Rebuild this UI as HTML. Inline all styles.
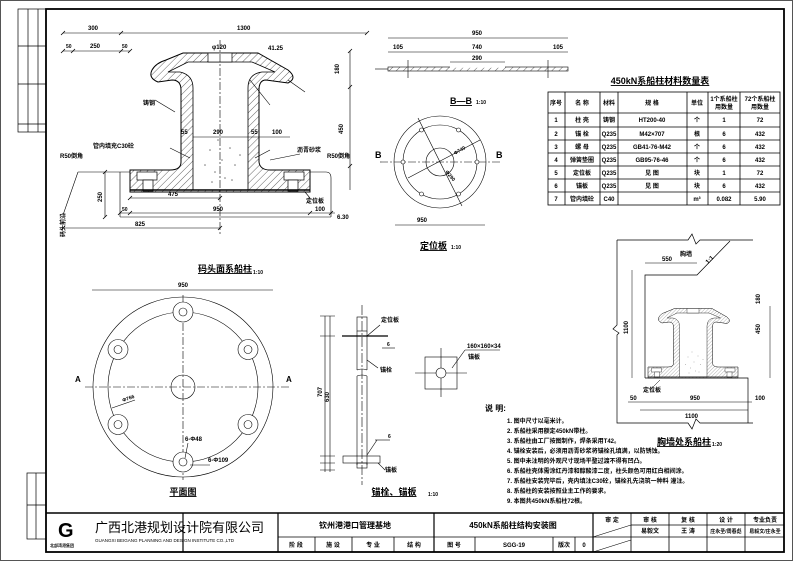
<!DOCTYPE html>
<html><head><meta charset="utf-8"><style>
html,body{margin:0;padding:0;background:#fff}
svg{display:block}
text{font-family:"Liberation Sans","Noto Sans CJK SC",sans-serif;font-weight:bold;fill:#000}
.t{font-size:6px}
.s{font-size:5px}
</style></head><body>
<svg width="793" height="561" viewBox="0 0 793 561" xmlns="http://www.w3.org/2000/svg">
<defs>
<pattern id="h" width="5" height="5" patternUnits="userSpaceOnUse" patternTransform="rotate(45)">
<rect width="5" height="5" fill="#fff"/><line x1="0" y1="0" x2="0" y2="5" stroke="#000" stroke-width="0.6"/></pattern>
<g id="boll">
<path d="M183,53 L258,53 L288,70 Q298,78 288,83 L266,80 Q259,80 259,90 L259,162 Q260,170 270,170 L310,170 L310,192 L130,192 L130,170 L170,170 Q181,170 181,162 L181,90 Q181,80 172,80 L158,82 Q148,78 152,70 Q156,63 166,60 Z" fill="url(#h)" stroke="#000" stroke-width="1"/>
<path d="M193,190 L193,88 Q193,75 180,72 L168,72 L188,62 L252,62 L275,72 L262,72 Q248,74 248,88 L248,190 Z" fill="#fff" stroke="#000" stroke-width="0.8"/>
<rect x="208" y="53" width="24" height="9" fill="#fff" stroke="#000" stroke-width="0.7"/>
<rect x="137" y="172" width="20" height="8" fill="#fff" stroke="#000" stroke-width="0.7"/>
<rect x="143" y="180" width="10" height="11" fill="#fff" stroke="#000" stroke-width="0.7"/>
<rect x="284" y="172" width="20" height="8" fill="#fff" stroke="#000" stroke-width="0.7"/>
<rect x="288" y="180" width="10" height="11" fill="#fff" stroke="#000" stroke-width="0.7"/>
<line x1="130" y1="190" x2="310" y2="190" stroke="#000" stroke-width="1.5"/>
<g fill="#777"><circle cx="210" cy="150" r="0.8"/><circle cx="222" cy="160" r="0.8"/><circle cx="230" cy="148" r="0.8"/><circle cx="215" cy="172" r="0.8"/><circle cx="235" cy="165" r="0.8"/><circle cx="205" cy="165" r="0.8"/><circle cx="225" cy="178" r="0.8"/><circle cx="240" cy="155" r="0.8"/><circle cx="212" cy="182" r="0.8"/><circle cx="232" cy="180" r="0.8"/><circle cx="218" cy="140" r="0.8"/></g>
</g>
</defs>
<rect x="0.5" y="0.5" width="792" height="560" fill="none" stroke="#555" stroke-width="1"/>
<rect x="46" y="9" width="738" height="543" fill="none" stroke="#000" stroke-width="1.8"/>
<!-- left strips -->
<g fill="none" stroke="#000" stroke-width="0.7">
<rect x="18" y="9" width="28" height="123"/><line x1="28" y1="9" x2="28" y2="132"/><line x1="38" y1="9" x2="38" y2="132"/><line x1="18" y1="46" x2="46" y2="46"/><line x1="18" y1="84" x2="46" y2="84"/><line x1="18" y1="124" x2="46" y2="124"/>
<rect x="27" y="473" width="19" height="66"/><line x1="36" y1="473" x2="36" y2="539"/><line x1="27" y1="505" x2="46" y2="505"/>
</g>
<!-- Section bollard -->
<use href="#boll"/>
<g stroke="#000" stroke-width="0.6" fill="none">
<path d="M78,172 L130,172 M310,172 L326,172 Q331,172 331,178 L331,217 M78,172 L63,215 M120,172 L120,217 M120,217 L331,217"/>
<line x1="220" y1="40" x2="220" y2="235" stroke-dasharray="8,2,2,2"/>
<line x1="63" y1="33" x2="367" y2="33"/><line x1="63" y1="51" x2="130" y2="51"/>
<line x1="105" y1="172" x2="105" y2="217"/><line x1="63" y1="228" x2="220" y2="228"/>
<line x1="130" y1="198" x2="220" y2="198"/><line x1="120" y1="213" x2="335" y2="213"/>
<line x1="193" y1="137" x2="290" y2="137"/>
<line x1="350" y1="51" x2="350" y2="190"/>
<line x1="175" y1="112" x2="155" y2="100"/><line x1="270" y1="160" x2="300" y2="154"/><line x1="305" y1="192" x2="310" y2="198"/>
<line x1="250" y1="80" x2="270" y2="105"/><line x1="288" y1="80" x2="305" y2="92"/>
<line x1="190" y1="158" x2="170" y2="148"/><line x1="255" y1="158" x2="270" y2="150"/>
</g>
<g stroke="#000" stroke-width="0.8">
<path d="M61,35 l4,-4 M119,35 l4,-4 M365,35 l4,-4 M61,53 l4,-4 M71,53 l4,-4 M119,53 l4,-4 M128,53 l4,-4 M103,174 l4,-4 M103,219 l4,-4 M61,230 l4,-4 M218,230 l4,-4 M128,200 l4,-4 M218,200 l4,-4 M118,215 l4,-4 M128,215 l4,-4 M308,215 l4,-4 M329,215 l4,-4 M348,53 l4,-4 M348,89 l4,-4 M348,168 l4,-4"/>
</g>
<g class="t">
<text x="88" y="30">300</text><text x="237" y="30">1300</text>
<text x="66" y="48" class="s">50</text><text x="90" y="48">250</text><text x="122" y="48" class="s">50</text>
<text x="212" y="49">φ120</text><text x="268" y="50">41.25</text>
<text x="335" y="70" transform="rotate(-90 339 70)">180</text><text x="339" y="130" transform="rotate(-90 343 130)">450</text>
<text x="143" y="105">铸钢</text><text x="93" y="148">管内填充C30砼</text><text x="60" y="158">R50倒角</text>
<text x="297" y="152">沥青砂浆</text><text x="327" y="158">R50倒角</text><text x="306" y="203">定位板</text>
<text x="181" y="134">55</text><text x="213" y="134">290</text><text x="251" y="134">55</text><text x="272" y="134">100</text>
<text x="168" y="196">475</text><text x="213" y="211">950</text><text x="122" y="211" class="s">50</text><text x="315" y="211">100</text>
<text x="98" y="198" transform="rotate(-90 102 198)">250</text><text x="135" y="226">825</text>
<text x="337" y="219">6.30</text>
<text x="52" y="240" transform="rotate(-90 57 232)">码头前沿</text>
</g>
<!-- B-B section -->
<g stroke="#000" stroke-width="0.6" fill="none">
<line x1="388" y1="38" x2="568" y2="38"/><line x1="388" y1="52" x2="568" y2="52"/><line x1="450" y1="62" x2="505" y2="62"/>
<rect x="388" y="67" width="180" height="4" fill="url(#h)"/>
<line x1="450" y1="67" x2="505" y2="67" stroke="#fff" stroke-width="1.5"/>
<line x1="408" y1="60" x2="408" y2="78"/><line x1="548" y1="60" x2="548" y2="78"/>
<line x1="375" y1="69" x2="388" y2="69"/>
<circle cx="440" cy="162" r="46"/><circle cx="440" cy="162" r="37"/><circle cx="440" cy="162" r="14"/>
<line x1="380" y1="162" x2="500" y2="162" stroke-dasharray="8,2,2,2"/>
<line x1="418" y1="118" x2="462" y2="206"/><line x1="408" y1="178" x2="480" y2="140"/>
<line x1="395" y1="225" x2="485" y2="225"/>
<line x1="405" y1="105" x2="445" y2="105" stroke-width="0"/>
</g>
<g fill="#fff" stroke="#000" stroke-width="0.6">
<circle cx="477" cy="162" r="2"/><circle cx="403" cy="162" r="2"/><circle cx="458.5" cy="130" r="2"/><circle cx="421.5" cy="130" r="2"/><circle cx="458.5" cy="194" r="2"/><circle cx="421.5" cy="194" r="2"/>
</g>
<g class="t">
<text x="472" y="35">950</text><text x="393" y="49">105</text><text x="472" y="49">740</text><text x="553" y="49">105</text><text x="472" y="60">290</text>
<text x="450" y="104" style="font-size:9px;text-decoration:underline">B—B</text><text x="476" y="104" class="s">1:10</text>
<text x="375" y="158" style="font-size:9px">B</text><text x="496" y="158" style="font-size:9px">B</text>
<text x="417" y="222">950</text>
<text x="420" y="249" style="font-size:9px;text-decoration:underline">定位板</text><text x="451" y="249" class="s">1:10</text>
<text x="455" y="155" class="s" transform="rotate(-30 455 155)">Φ740</text><text x="445" y="172" class="s" transform="rotate(50 445 172)">Φ290</text>
</g>
<!-- table -->
<text x="660" y="84" text-anchor="middle" style="font-size:9px;text-decoration:underline">450kN系船柱材料数量表</text>
<g stroke="#000" stroke-width="0.8" fill="none">
<rect x="548" y="92" width="232" height="113"/>
<path d="M548,113H780M548,127H780M548,140H780M548,153H780M548,166H780M548,179H780M548,192H780"/>
<path d="M565,92V205M600,92V205M618,92V205M687,92V205M708,92V205M740,92V205"/>
</g>
<g class="t" text-anchor="middle">
<text x="556" y="105">序号</text><text x="582" y="105">名 称</text><text x="609" y="105">材料</text><text x="652" y="105">规 格</text><text x="697" y="105">单位</text><text x="724" y="101">1个系船柱</text><text x="724" y="109">用数量</text><text x="760" y="101">72个系船柱</text><text x="760" y="109">用数量</text>
<text x="556" y="122">1</text><text x="582" y="122">柱 壳</text><text x="609" y="122">铸钢</text><text x="652" y="122">HT200-40</text><text x="697" y="122">个</text><text x="724" y="122">1</text><text x="760" y="122">72</text>
<text x="556" y="136">2</text><text x="582" y="136">锚 栓</text><text x="609" y="136">Q235</text><text x="652" y="136">M42×707</text><text x="697" y="136">根</text><text x="724" y="136">6</text><text x="760" y="136">432</text>
<text x="556" y="149">3</text><text x="582" y="149">螺 母</text><text x="609" y="149">Q235</text><text x="652" y="149">GB41-76-M42</text><text x="697" y="149">个</text><text x="724" y="149">6</text><text x="760" y="149">432</text>
<text x="556" y="162">4</text><text x="582" y="162">弹簧垫圈</text><text x="609" y="162">Q235</text><text x="652" y="162">GB95-76-46</text><text x="697" y="162">个</text><text x="724" y="162">6</text><text x="760" y="162">432</text>
<text x="556" y="175">5</text><text x="582" y="175">定位板</text><text x="609" y="175">Q235</text><text x="652" y="175">见 图</text><text x="697" y="175">块</text><text x="724" y="175">1</text><text x="760" y="175">72</text>
<text x="556" y="188">6</text><text x="582" y="188">锚板</text><text x="609" y="188">Q235</text><text x="652" y="188">见 图</text><text x="697" y="188">块</text><text x="724" y="188">6</text><text x="760" y="188">432</text>
<text x="556" y="201">7</text><text x="582" y="201">管内填砼</text><text x="609" y="201">C40</text><text x="697" y="201">m³</text><text x="724" y="201">0.082</text><text x="760" y="201">5.90</text>
</g>
<!-- plan circle -->
<text x="225" y="272" text-anchor="middle" style="font-size:9px;text-decoration:underline">码头面系船柱</text><text x="253" y="274" class="s">1:10</text>
<g stroke="#000" stroke-width="0.6" fill="none">
<line x1="92" y1="290" x2="273" y2="290"/>
<circle cx="183" cy="387" r="90"/><circle cx="183" cy="387" r="75"/><circle cx="183" cy="387" r="12"/>
<line x1="85" y1="387" x2="290" y2="387" stroke-dasharray="8,2,2,2"/><line x1="183" y1="295" x2="183" y2="480" stroke-dasharray="8,2,2,2"/>
<g fill="#fff">
<circle cx="183" cy="312" r="10"/><circle cx="183" cy="312" r="4"/>
<circle cx="183" cy="462" r="10"/><circle cx="183" cy="462" r="4"/>
<circle cx="118" cy="349.5" r="10"/><circle cx="118" cy="349.5" r="4"/>
<circle cx="248" cy="349.5" r="10"/><circle cx="248" cy="349.5" r="4"/>
<circle cx="118" cy="424.5" r="10"/><circle cx="118" cy="424.5" r="4"/>
<circle cx="248" cy="424.5" r="10"/><circle cx="248" cy="424.5" r="4"/>
</g>
<line x1="112" y1="408" x2="135" y2="400"/><line x1="185" y1="458" x2="188" y2="443"/><line x1="190" y1="465" x2="210" y2="465"/>
</g>
<g class="t">
<text x="178" y="287">950</text><text x="75" y="382" style="font-size:8px">A</text><text x="286" y="382" style="font-size:8px">A</text>
<text x="123" y="402" class="s" transform="rotate(-20 123 402)">Φ766</text><text x="185" y="441">6-Φ48</text><text x="208" y="462">6-Φ109</text>
<text x="183" y="495" text-anchor="middle" style="font-size:9px;text-decoration:underline">平面图</text>
</g>
<!-- bolt -->
<g stroke="#000" stroke-width="0.6" fill="none">
<line x1="362" y1="305" x2="362" y2="485" stroke-dasharray="10,2,2,2"/>
<rect x="357" y="317" width="10" height="14"/>
<path d="M357,331 V370 M367,331 V370 M357,376 V465 M367,376 V465"/>
<path d="M357,370 Q362,368 367,370 M357,376 Q362,374 367,376"/>
<line x1="342" y1="336" x2="388" y2="336" stroke-width="1.2"/>
<rect x="343" y="456" width="37" height="7"/>
<rect x="357" y="463" width="10" height="5"/>
<path d="M325,316 V472 M330,316 V472 M320,316 H335 M320,336 H335 M320,456 H335 M320,463 H335 M320,470 H335"/>
<line x1="367" y1="336" x2="380" y2="325"/><line x1="367" y1="360" x2="378" y2="368"/><line x1="367" y1="455" x2="377" y2="440"/><line x1="378" y1="463" x2="385" y2="470"/>
<line x1="382" y1="348" x2="395" y2="348"/><line x1="375" y1="440" x2="390" y2="440"/>
</g>
<g class="t">
<text x="381" y="322">定位板</text><text x="380" y="372">锚栓</text><text x="385" y="472">锚板</text>
<text x="320" y="395" transform="rotate(-90 322 395)">707</text><text x="327" y="400" transform="rotate(-90 329 400)">630</text>
<text x="387" y="346" class="s">6</text><text x="388" y="438" class="s">6</text>
<text x="394" y="495" text-anchor="middle" style="font-size:9px;text-decoration:underline">锚栓、锚板</text><text x="428" y="496" class="s">1:10</text>
</g>
<!-- square plate -->
<g stroke="#000" stroke-width="0.6" fill="none">
<rect x="425" y="357" width="32" height="32"/>
<line x1="415" y1="373" x2="467" y2="373"/><line x1="441" y1="348" x2="441" y2="397"/>
<circle cx="441" cy="373" r="5" fill="#fff"/>
<line x1="452" y1="368" x2="465" y2="350"/><line x1="465" y1="350" x2="500" y2="350"/>
</g>
<text x="467" y="348" class="t">160×160×34</text><text x="468" y="359" class="t">锚板</text>
<!-- right detail -->
<g stroke="#000" stroke-width="0.7" fill="none">
<path d="M617,240 H688 l4,-6 l4,10 l4,-4 H753 M617,240 V325 l-4,4 l6,4 l-2,2 V423 H688 l4,6 l4,-10 l4,4 H753"/>
<path d="M645,378 V275 H697 L730,241 M645,378 H748 V423"/>
<line x1="632" y1="270" x2="632" y2="378" stroke-width="0.5"/>
<line x1="645" y1="263" x2="697" y2="263" stroke-width="0.5"/>
<line x1="628" y1="402" x2="752" y2="402" stroke-width="0.5"/><line x1="640" y1="410" x2="748" y2="410" stroke-width="0.5"/>
<line x1="770" y1="306" x2="770" y2="378" stroke-width="0.5"/>
<line x1="660" y1="380" x2="650" y2="390" stroke-width="0.5"/>
</g>
<use href="#boll" transform="translate(693,378) scale(0.5) translate(-220,-192)"/>
<g class="t">
<text x="680" y="256">胸墙</text><text x="662" y="261">550</text><text x="707" y="262" transform="rotate(-45 710 262)">1:1</text>
<text x="624" y="330" transform="rotate(-90 628 330)">1100</text>
<text x="756" y="330" transform="rotate(-90 760 330)">450</text><text x="756" y="300" transform="rotate(-90 760 300)">180</text>
<text x="643" y="392">定位板</text><text x="630" y="400">50</text><text x="690" y="400">950</text><text x="755" y="400">100</text><text x="685" y="418">1100</text>
<text x="657" y="445" style="font-size:9px;text-decoration:underline">胸墙处系船柱</text><text x="712" y="446" class="s">1:20</text>
</g>
<!-- notes -->
<g class="t">
<text x="485" y="411" style="font-size:8px">说 明:</text>
<text x="507" y="423">1. 图中尺寸以毫米计。</text>
<text x="507" y="433">2. 系船柱采用额定450kN带柱。</text>
<text x="507" y="443">3. 系船柱由工厂按图制作，焊条采用T42。</text>
<text x="507" y="453">4. 锚栓安装后，必须用沥青砂浆将锚栓孔填满，以防锈蚀。</text>
<text x="507" y="463">5. 图中未注明的外观尺寸现场平整过渡不得有凹凸。</text>
<text x="507" y="473">6. 系船柱壳体需涂红丹漆和醇酸漆二度，柱头颜色可用红白相间涂。</text>
<text x="507" y="483">7. 系船柱安装完毕后，壳内填注C30砼，锚栓孔先浇筑一种料 灌注。</text>
<text x="507" y="493">8. 系船柱的安装按照业主工作的要求。</text>
<text x="507" y="503">9. 本图共450kN系船柱72根。</text>
</g>
<!-- title block -->
<g stroke="#000" fill="none">
<line x1="46" y1="513" x2="784" y2="513" stroke-width="1.5"/>
<line x1="278" y1="537" x2="784" y2="537" stroke-width="0.8"/>
<line x1="631" y1="525" x2="784" y2="525" stroke-width="0.8"/>
<path d="M183,513V552M278,513V552M434,513V552M593,513V552" stroke-width="1.2"/>
<path d="M315,537V552M352,537V552M394,537V552M475,537V552M553,537V552M575,537V552M631,513V552M669,513V552M707,513V552M745,513V552" stroke-width="0.8"/>
<path d="M593,537L631,525M593,552L631,540" stroke-width="0.6"/>
</g>
<text x="58" y="537" style="font-size:20px;font-family:'Liberation Sans',sans-serif">G</text>
<text x="50" y="547" style="font-size:4px">北部湾港集团</text>
<text x="95" y="532" style="font-size:13px;font-weight:normal">广西北港规划设计院有限公司</text>
<text x="95" y="542" style="font-size:4.5px;font-weight:normal">GUANGXI BEIGANG PLANNING AND DESIGN INSTITUTE CO.,LTD</text>
<g class="t" text-anchor="middle">
<text x="355" y="528" style="font-size:8px">钦州港港口管理基地</text>
<text x="513" y="528" style="font-size:8px">450kN系船柱结构安装图</text>
<text x="612" y="522">审 定</text><text x="650" y="522">审 核</text><text x="688" y="522">复 核</text><text x="726" y="522">设 计</text><text x="765" y="522">专业负责</text>
<text x="650" y="533">易毅文</text><text x="688" y="533">王 涛</text><text x="726" y="533" class="s">庄永圣/周春彪</text><text x="765" y="533" class="s">易毅文/庄永圣</text>
<text x="296" y="547">阶 段</text><text x="333" y="547">施 设</text><text x="373" y="547">专 业</text><text x="414" y="547">结 构</text><text x="454" y="547">图 号</text><text x="514" y="547">SGG-19</text><text x="564" y="547">版次</text><text x="584" y="547">0</text>
</g>
</svg>
</body></html>
